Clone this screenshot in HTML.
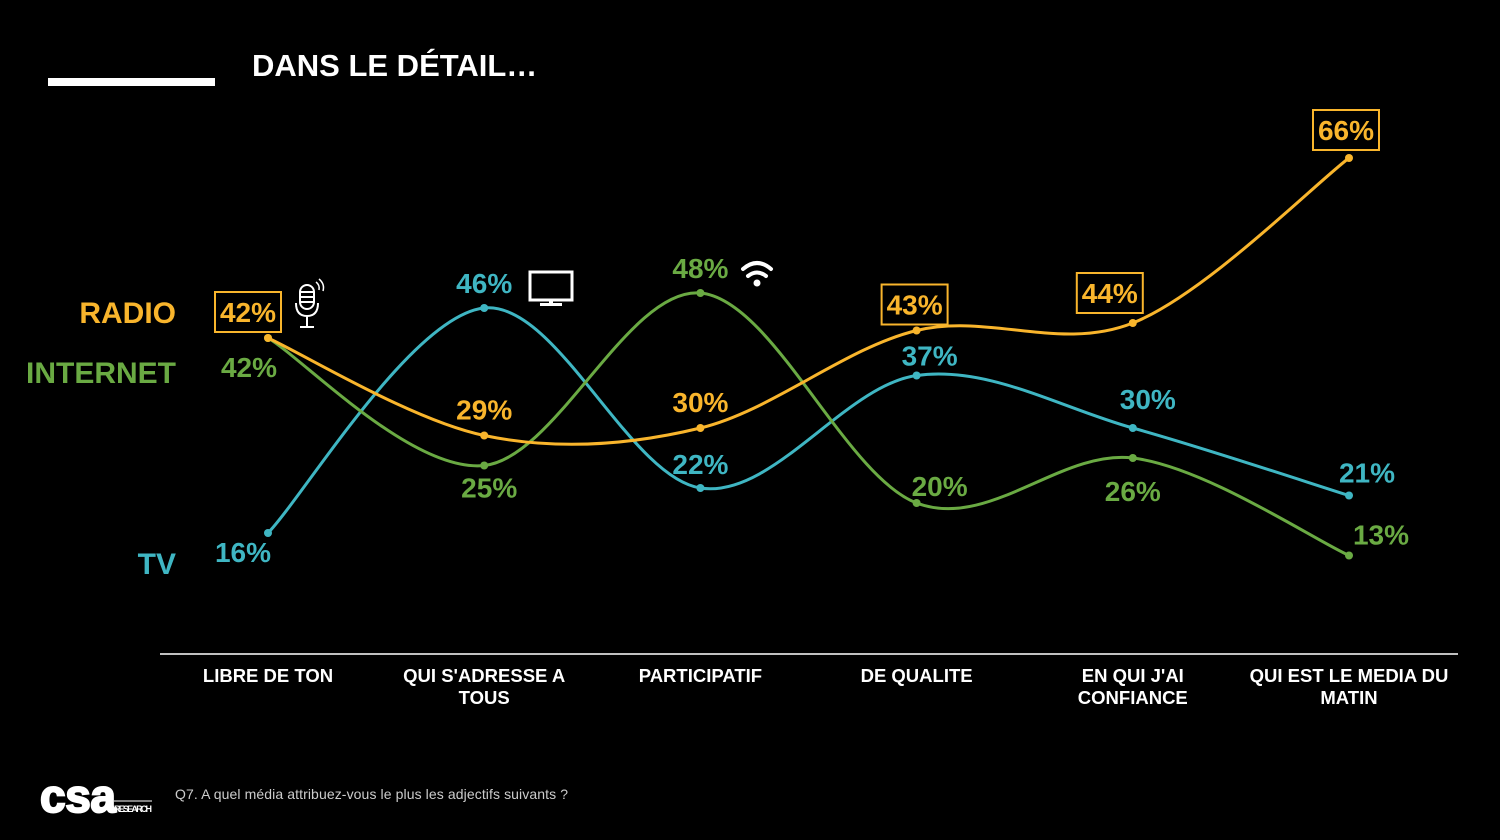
<!DOCTYPE html>
<html><head><meta charset="utf-8">
<style>
html,body{margin:0;padding:0;background:#000;}
body{width:1500px;height:840px;overflow:hidden;position:relative;font-family:"Liberation Sans",sans-serif;}
svg{position:absolute;left:0;top:0;}
</style></head>
<body>
<svg id="chart" width="1500" height="840" viewBox="0 0 1500 840">
  <rect x="48" y="78" width="167" height="8" fill="#fff"/>
  <text x="252" y="76" fill="#fff" font-family="Liberation Sans" font-weight="bold" font-size="31">DANS LE DÉTAIL…</text>
  <text x="176" y="323" text-anchor="end" fill="#f9b52c" font-weight="bold" font-size="30">RADIO</text>
  <text x="176" y="383" text-anchor="end" fill="#6aaa43" font-weight="bold" font-size="30">INTERNET</text>
  <text x="176" y="574" text-anchor="end" fill="#3fb6c3" font-weight="bold" font-size="30">TV</text>
  <line x1="160" y1="654" x2="1458" y2="654" stroke="#fff" stroke-width="1.5"/>
  <g id="cats"></g>
  <g id="series"></g>
  <g fill="none" stroke="#fff" stroke-width="2">
    <rect x="300" y="285" width="14" height="24" rx="7"/>
    <path d="M296 303 q0 13 11 13 q11 0 11 -13"/>
    <line x1="307" y1="316" x2="307" y2="326"/><line x1="300" y1="327" x2="314" y2="327"/>
    <line x1="301" y1="292" x2="313" y2="292"/><line x1="301" y1="297" x2="313" y2="297"/><line x1="301" y1="302" x2="313" y2="302"/>
    <path d="M316 282 q4 3 3 8" stroke-width="1.5"/><path d="M319 279 q6 5 4 12" stroke-width="1.5"/>
  </g>
  <g>
    <rect x="530" y="272" width="42" height="28" fill="none" stroke="#fff" stroke-width="3"/>
    <rect x="549" y="300" width="4" height="4" fill="#fff"/><rect x="540" y="303" width="22" height="3" fill="#fff"/>
  </g>
  <g fill="none" stroke="#fff" stroke-width="4" stroke-linecap="round">
    <path d="M743 269 q14 -12 28 0"/><path d="M748 276 q9 -7 18 0"/>
    <circle cx="757" cy="283" r="3.5" fill="#fff" stroke="none"/>
  </g>
  <text x="175" y="799" fill="#ccc" font-size="14" textLength="393">Q7. A quel média attribuez-vous le plus les adjectifs suivants ?</text>
  <g>
    <text x="40" y="812" fill="#fff" font-weight="bold" font-size="46" stroke="#fff" stroke-width="2" letter-spacing="-4" textLength="72">csa</text>
    <line x1="114" y1="801" x2="152" y2="801" stroke="#fff" stroke-width="1"/>
    <text x="114" y="812" fill="#fff" font-weight="bold" font-size="9" textLength="38">RESEARCH</text>
  </g>
</svg>
<script>
const categories = [["LIBRE DE TON"],["QUI S'ADRESSE A","TOUS"],["PARTICIPATIF"],["DE QUALITE"],["EN QUI J'AI","CONFIANCE"],["QUI EST LE MEDIA DU","MATIN"]];
const radioValues = [42,29,30,43,44,66];
const tvValues = [16,46,22,37,30,21];
const internetValues = [42,25,48,20,26,13];
const radioBoxed = [true,false,false,true,true,true];

const NS="http://www.w3.org/2000/svg";
function xScale(i){return 268+i*216.2;}
function yScale(v){return 653-v*7.5;}
function mk(tag,attrs,parent){const e=document.createElementNS(NS,tag);for(const k in attrs)e.setAttribute(k,attrs[k]);parent.appendChild(e);return e;}

const catG=document.getElementById('cats');
categories.forEach((lines,i)=>{
  const t=mk('text',{x:xScale(i),y:682,'text-anchor':'middle',fill:'#fff','font-weight':'bold','font-size':'18.5'},catG);
  
  
  lines.forEach((l,j)=>{const s=mk('tspan',{x:xScale(i),dy:j?22:0},t);s.textContent=l;});
});

function pathD(pts){
  let d=`M${pts[0][0]},${pts[0][1]}`;
  for(let i=0;i<pts.length-1;i++){
    const p0=pts[i-1]||pts[i],p1=pts[i],p2=pts[i+1],p3=pts[i+2]||p2;
    const c1=[p1[0]+(p2[0]-p0[0])/6,p1[1]+(p2[1]-p0[1])/6];
    const c2=[p2[0]-(p3[0]-p1[0])/6,p2[1]-(p3[1]-p1[1])/6];
    d+=` C${c1[0]},${c1[1]} ${c2[0]},${c2[1]} ${p2[0]},${p2[1]}`;
  }
  return d;
}
const sG=document.getElementById('series');
const series=[
  {name:'tv',vals:tvValues,color:'#3fb6c3',off:[[-25,19],[0,-25],[0,-24],[13,-20],[15,-29],[18,-23]]},
  {name:'internet',vals:internetValues,color:'#6aaa43',off:[[-19,29],[5,22],[0,-25],[23,-17],[0,33],[32,-21]]},
  {name:'radio',vals:radioValues,color:'#f9b52c',off:[[-20,-26],[0,-26],[0,-26],[-2,-26],[-23,-30],[-3,-28]]}
];
series.forEach(s=>{
  const pts=s.vals.map((v,i)=>[xScale(i),yScale(v)]);
  const p=mk('path',{d:pathD(pts),fill:'none',stroke:s.color,'stroke-width':3},sG);
  
  
  pts.forEach((pt,i)=>{
    const c=mk('circle',{cx:pt[0],cy:pt[1],r:4,fill:s.color},sG);
    
    
    const lx=pt[0]+s.off[i][0],ly=pt[1]+s.off[i][1];
    if(s.name==='radio'&&radioBoxed[i]){
      const b=mk('rect',{x:lx-33,y:ly-20,width:66,height:40,fill:'#000',stroke:s.color,'stroke-width':2},sG);
      
      
    }
    const t=mk('text',{x:lx,y:ly+10,'text-anchor':'middle',fill:s.color,'font-family':'Liberation Sans Narrow, Liberation Sans, sans-serif','font-weight':'bold','font-size':'28'},sG);
    t.textContent=s.vals[i]+'%';
    
    
  });
});
</script>
</body></html>
